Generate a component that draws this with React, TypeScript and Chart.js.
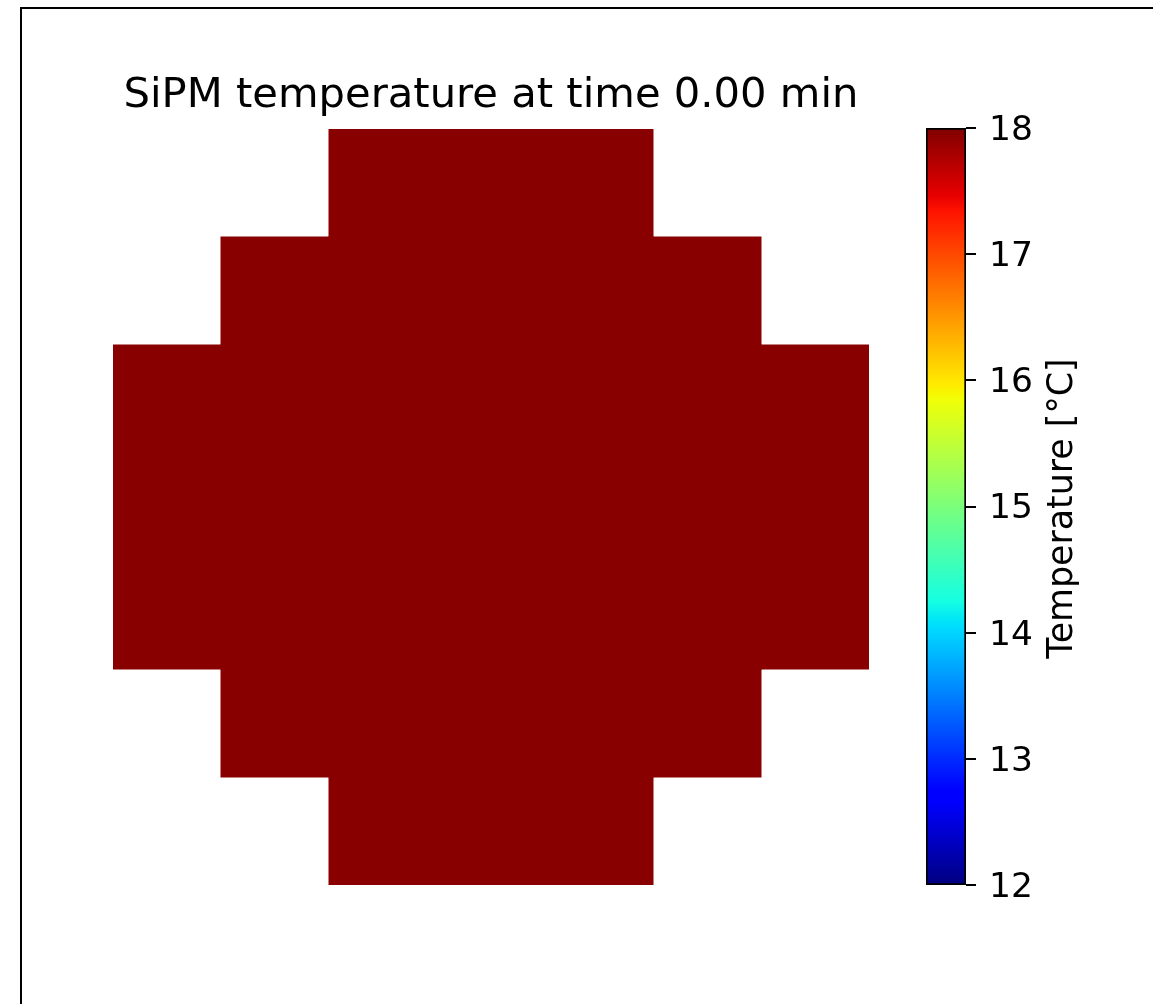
import React, { useEffect, useRef } from "react";
import { Chart, registerables } from "chart.js";

Chart.register(...registerables);

// ---- data ----
const rowLabels = ["r0", "r1", "r2", "r3", "r4", "r5", "r6"];
const columnIndex = [0, 1, 2, 3, 4, 5, 6];
const row0: (number | null)[] = [null, null, 17.95, 17.95, 17.95, null, null];
const row1: (number | null)[] = [null, 17.95, 17.95, 17.95, 17.95, 17.95, null];
const row2: (number | null)[] = [17.95, 17.95, 17.95, 17.95, 17.95, 17.95, 17.95];
const row3: (number | null)[] = [17.95, 17.95, 17.95, 17.95, 17.95, 17.95, 17.95];
const row4: (number | null)[] = [17.95, 17.95, 17.95, 17.95, 17.95, 17.95, 17.95];
const row5: (number | null)[] = [null, 17.95, 17.95, 17.95, 17.95, 17.95, null];
const row6: (number | null)[] = [null, null, 17.95, 17.95, 17.95, null, null];
const tempGrid = [row0, row1, row2, row3, row4, row5, row6];
const colorMin = 12;
const colorMax = 18;
const colorbarTicks = [12, 13, 14, 15, 16, 17, 18];
const titleText = "SiPM temperature at time 0.00 min";
const colorbarLabel = "Temperature [°C]";

const FONT = "'DejaVu Sans', sans-serif";

// matplotlib jet
const jetR: [number, number][] = [[0, 0], [0.35, 0], [0.66, 1], [0.89, 1], [1, 0.5]];
const jetG: [number, number][] = [[0, 0], [0.125, 0], [0.375, 1], [0.64, 1], [0.91, 0], [1, 0]];
const jetB: [number, number][] = [[0, 0.5], [0.11, 1], [0.34, 1], [0.65, 0], [1, 0]];
function seg(s: [number, number][], x: number) {
  if (x <= s[0][0]) return s[0][1];
  for (let i = 1; i < s.length; i++) {
    if (x <= s[i][0]) {
      const [x0, y0] = s[i - 1];
      const [x1, y1] = s[i];
      return y0 + ((y1 - y0) * (x - x0)) / (x1 - x0);
    }
  }
  return s[s.length - 1][1];
}
function jet(t: number) {
  const x = Math.max(0, Math.min(1, t));
  const r = Math.round(seg(jetR, x) * 255);
  const g = Math.round(seg(jetG, x) * 255);
  const b = Math.round(seg(jetB, x) * 255);
  return `rgb(${r},${g},${b})`;
}
const jetStops = [0, 0.11, 0.125, 0.34, 0.35, 0.375, 0.5, 0.64, 0.65, 0.66, 0.89, 0.91, 1];

const norm = (v: number) => (v - colorMin) / (colorMax - colorMin);

export default function App() {
  const mainRef = useRef<HTMLCanvasElement>(null);
  const cbRef = useRef<HTMLCanvasElement>(null);

  useEffect(() => {
    const datasets = columnIndex.map((c) => ({
      label: "col" + c,
      data: tempGrid.map((r) => (r[c] == null ? null : [c - 0.5, c + 0.5])),
      backgroundColor: tempGrid.map((r) => (r[c] == null ? "rgba(0,0,0,0)" : jet(norm(r[c] as number)))),
      borderWidth: 0,
      grouped: false,
      barPercentage: 1,
      categoryPercentage: 1,
      inflateAmount: 0.5,
    }));

    const main = new Chart(mainRef.current!, {
      type: "bar",
      data: { labels: rowLabels, datasets: datasets as any },
      options: {
        indexAxis: "y",
        animation: false,
        responsive: false,
        events: [],
        layout: { padding: { left: 113, right: 31, top: 0, bottom: 119 } },
        scales: {
          x: { type: "linear", min: -0.5, max: 6.5, display: false },
          y: { type: "category", display: false },
        },
        plugins: {
          legend: { display: false },
          tooltip: { enabled: false },
          title: {
            display: true,
            text: titleText,
            color: "#000",
            font: { family: FONT, size: 41.7, weight: "normal", lineHeight: 1.2 },
            padding: { top: 71.5, bottom: 7.5 },
          },
        },
      },
    });

    const cbTitlePlugin = {
      id: "cbTitle",
      afterDraw(chart: any) {
        const { ctx, chartArea } = chart;
        ctx.save();
        ctx.translate(chartArea.right + 106, (chartArea.top + chartArea.bottom) / 2 + 2);
        ctx.rotate(-Math.PI / 2);
        ctx.fillStyle = "#000";
        ctx.font = `34.8px ${FONT}`;
        ctx.textAlign = "center";
        ctx.textBaseline = "alphabetic";
        ctx.fillText(colorbarLabel, 0, 0);
        ctx.restore();
      },
    };

    const cb = new Chart(cbRef.current!, {
      type: "bar",
      data: {
        labels: ["cb"],
        datasets: [
          {
            data: [[colorMin, colorMax]] as any,
            backgroundColor: (ctx: any) => {
              const chart = ctx.chart;
              if (!chart.chartArea) return "rgba(0,0,0,0)";
              const ys = chart.scales.y;
              const g = chart.ctx.createLinearGradient(0, ys.getPixelForValue(colorMin), 0, ys.getPixelForValue(colorMax));
              jetStops.forEach((s) => g.addColorStop(s, jet(s)));
              return g;
            },
            borderColor: "#000",
            borderWidth: 2,
            borderSkipped: false,
            barPercentage: 1,
            categoryPercentage: 1,
          } as any,
        ],
      },
      options: {
        animation: false,
        responsive: false,
        events: [],
        layout: { padding: { left: 26, right: 57, top: 128, bottom: 119 } },
        scales: {
          x: { display: false },
          y: {
            position: "right",
            min: colorMin,
            max: colorMax,
            afterFit: (s: any) => {
              s.width = 130;
            },
            afterBuildTicks: (s: any) => {
              s.ticks = colorbarTicks.map((v) => ({ value: v }));
            },
            border: { display: false },
            grid: { drawOnChartArea: false, drawTicks: true, tickLength: 10, color: "#000", lineWidth: 2 },
            ticks: { color: "#000", font: { family: FONT, size: 34.5 }, padding: 13, labelOffset: 3 },
          },
        },
        plugins: { legend: { display: false }, tooltip: { enabled: false }, title: { display: false } },
      },
      plugins: [cbTitlePlugin],
    });

    return () => {
      main.destroy();
      cb.destroy();
    };
  }, []);

  return (
    <div style={{ position: "absolute", left: 0, top: 0, width: 1153, height: 1004, overflow: "hidden", background: "#fff" }}>
      <div
        style={{
          position: "absolute",
          left: 20,
          top: 7,
          width: 1200,
          height: 1100,
          borderLeft: "2px solid #000",
          borderTop: "2px solid #000",
        }}
      />
      <canvas ref={mainRef} width={900} height={1004} style={{ position: "absolute", left: 0, top: 0 }} />
      <canvas ref={cbRef} width={253} height={1004} style={{ position: "absolute", left: 900, top: 0 }} />
    </div>
  );
}
